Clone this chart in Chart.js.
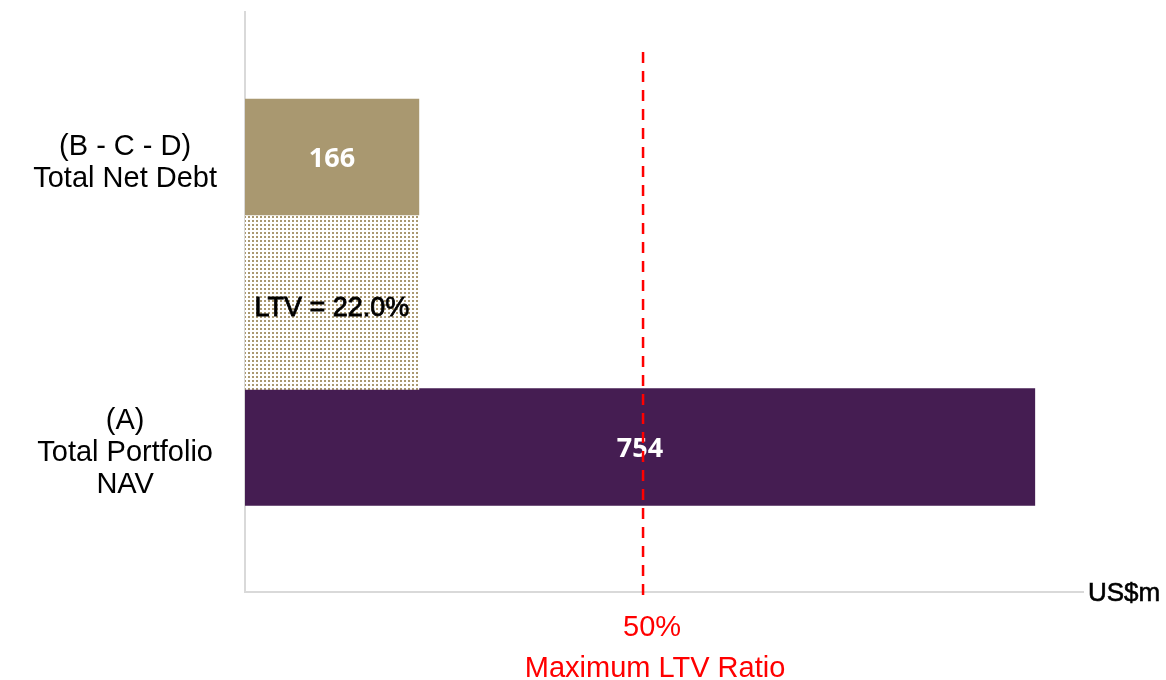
<!DOCTYPE html>
<html>
<head>
<meta charset="utf-8">
<script src="https://cdn.jsdelivr.net/npm/chart.js@4"></script>
<style>
  html, body { margin:0; padding:0; background:#fff; }
  #c { display:block; }
</style>
</head>
<body>
<canvas id="c" width="1166" height="680"></canvas>
<script>
// categories top -> bottom, blank slots at both ends keep the spacing
const categories = ['', ['(B - C - D)', 'Total Net Debt'], '', ['(A)', 'Total Portfolio', 'NAV'], '']
const netDebt = [null, 166, null, null, null]
const ltvBar = [null, null, 166, null, null]
const portfolioNav = [null, null, null, 754, null]
const ltvText = 'LTV = 22.0%'
const maxLtvValue = 380
const maxLtvTexts = ['50%', 'Maximum LTV Ratio']
const unitText = 'US$m'
const xMax = 800

const tan = '#A99870'
const ungu = '#451D52'

const dotPattern = (() => {
	const p = document.createElement('canvas')
	p.width = 4; p.height = 4
	const g = p.getContext('2d')
	g.fillStyle = '#fff'
	g.fillRect(0, 0, 4, 4)
	g.fillStyle = tan
	g.fillRect(0, 0, 2, 2)
	return document.getElementById('c').getContext('2d').createPattern(p, 'repeat')
})()

const tebal = (ctx, t, x, y, w) => {
	ctx.fillText(t, x, y)
	ctx.lineWidth = w
	ctx.strokeStyle = ctx.fillStyle
	ctx.strokeText(t, x, y)
}

const labelPlugin = {
	id: 'labelPlugin',
	afterDatasetsDraw(chart) {
		const ctx = chart.ctx
		const xs = chart.scales.x
		const ca = chart.chartArea
		ctx.save()
		ctx.textAlign = 'center'
		ctx.textBaseline = 'middle'

		// value labels inside the solid bars
		;[0, 2].forEach(d => {
			chart.getDatasetMeta(d).data.forEach((bar, i) => {
				const v = chart.data.datasets[d].data[i]
				if (v == null) return
				ctx.fillStyle = '#fff'
				ctx.font = 'bold 27px "Open Sans"'
				ctx.fillText(v, (bar.x + bar.base) / 2, bar.y + 2)
			})
		})
		// LTV text in the dotted bar
		chart.getDatasetMeta(1).data.forEach((bar, i) => {
			if (chart.data.datasets[1].data[i] == null) return
			ctx.fillStyle = '#000'
			ctx.font = '27px "Liberation Sans"'
			tebal(ctx, ltvText, (bar.x + bar.base) / 2, bar.y + 7, 0.8)
		})

		// max LTV dashed line
		const lx = xs.getPixelForValue(maxLtvValue)
		ctx.strokeStyle = '#FF0000'
		ctx.lineWidth = 2.5
		ctx.setLineDash([11, 8])
		ctx.beginPath()
		ctx.moveTo(lx, ca.top + 40)
		ctx.lineTo(lx, ca.bottom + 6)
		ctx.stroke()
		ctx.setLineDash([])

		ctx.fillStyle = '#FF0000'
		ctx.font = '29px "Liberation Sans"'
		ctx.fillText(maxLtvTexts[0], lx + 9, ca.bottom + 36)
		ctx.fillText(maxLtvTexts[1], lx + 12, ca.bottom + 77)

		ctx.fillStyle = '#000'
		ctx.font = '26px "Liberation Sans"'
		ctx.textAlign = 'left'
		tebal(ctx, unitText, ca.right + 5, ca.bottom + 2, 0.6)
		ctx.restore()
	}
}

new Chart(document.getElementById('c'), {
	type: 'bar',
	data: {
		labels: categories,
		datasets: [
			{ label: 'Total Net Debt', data: netDebt, backgroundColor: tan, barThickness: 116 },
			{ label: 'LTV', data: ltvBar, backgroundColor: dotPattern, barThickness: 175 },
			{ label: 'Total Portfolio NAV', data: portfolioNav, backgroundColor: ungu, barThickness: 117 },
		]
	},
	options: {
		indexAxis: 'y',
		responsive: false,
		animation: false,
		layout: { padding: { top: 12, right: 83, left: 0, bottom: 0 } },
		datasets: { bar: { grouped: false, skipNull: true } },
		plugins: {
			legend: { display: false },
			tooltip: { enabled: false },
		},
		scales: {
			x: {
				min: 0,
				max: xMax,
				grid: { display: false, drawTicks: false },
				border: { display: true, color: '#d9d9d9', width: 2 },
				ticks: { display: false },
				afterFit: s => { s.height = 88; s.paddingLeft = 0; s.paddingRight = 0 },
			},
			y: {
				offset: false,
				grid: { display: false, drawTicks: false },
				border: { display: true, color: '#d9d9d9', width: 2 },
				ticks: {
					autoSkip: false,
					padding: 28,
					labelOffset: 6,
					crossAlign: 'center',
					color: '#000',
					font: { family: '"Liberation Sans"', size: 29, lineHeight: 1.1 },
				},
				afterFit: s => { s.width = 245; s.paddingTop = 0; s.paddingBottom = 0 },
			}
		}
	},
	plugins: [labelPlugin]
})
</script>
</body>
</html>
